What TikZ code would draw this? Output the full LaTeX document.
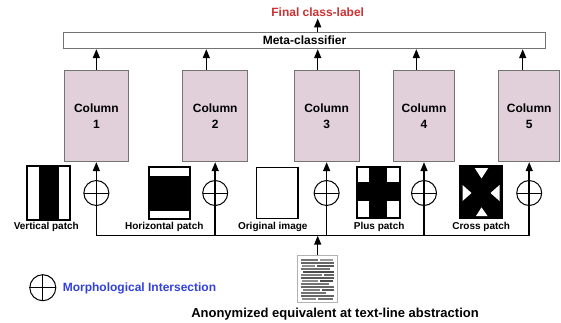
\documentclass[tikz,border=0pt]{standalone}
\usepackage{fontspec}
\setmainfont{Liberation Sans}
\usetikzlibrary{arrows.meta}
\definecolor{colfill}{RGB}{225,208,218}
\definecolor{bordergray}{RGB}{115,115,115}
\definecolor{labelred}{RGB}{205,50,50}
\definecolor{legblue}{RGB}{50,65,220}
\begin{document}
\begin{tikzpicture}[x=1pt,y=-1pt,
  lbl/.style={font=\fontsize{10}{12}\selectfont\bfseries, inner sep=0},
  big/.style={font=\fontsize{12}{16}\selectfont\bfseries, inner sep=0},
  colbox/.style={draw=bordergray, fill=colfill, line width=0.9pt, minimum height=91.7pt, inner sep=0, align=center, font=\fontsize{12}{16}\selectfont\bfseries},
  arr/.style={-{Triangle[length=9pt,width=7pt]}, line width=1.5pt},
  patchbox/.style={draw=black, line width=1.4pt, fill=white, inner sep=0},
  oplus/.style={circle, draw, line width=1pt, minimum size=25pt, inner sep=0,
    path picture={\draw[line width=1pt] (path picture bounding box.west) -- (path picture bounding box.east);}},
]
\useasboundingbox (0,0) rectangle (561,322);

% meta-classifier and final label
\node[draw=bordergray, line width=0.9pt, minimum width=482.4pt, minimum height=16.4pt, inner sep=0, big] (meta) at (304.5,40.5) {Meta-classifier};
\node[big, text=labelred, anchor=base] (final) at (317.7,16.6) {Final class-label};
\draw[arr] (meta.north -| final) -- ([yshift=-1.5pt]final.south);

% columns
\node[colbox, minimum width=64.7pt] (c1) at (96.35,115.85) {Column\\1};
\node[colbox, minimum width=65pt]   (c2) at (215.2,115.85) {Column\\2};
\node[colbox, minimum width=64.7pt] (c3) at (326.65,115.85) {Column\\3};
\node[colbox, minimum width=61.4pt] (c4) at (424,115.85) {Column\\4};
\node[colbox, minimum width=61pt]   (c5) at (529.2,115.85) {Column\\5};

% column to meta arrows
\draw[arr] (c1.north) -- (c1.north |- meta.south);
\draw[arr] ([xshift=-8.9pt]c2.north) -- ([xshift=-8.9pt]c2.north |- meta.south);
\draw[arr] ([xshift=-8.95pt]c3.north) -- ([xshift=-8.95pt]c3.north |- meta.south);
\draw[arr] ([xshift=-7.7pt]c4.north) -- ([xshift=-7.7pt]c4.north |- meta.south);
\draw[arr] ([xshift=-6.5pt]c5.north) -- ([xshift=-6.5pt]c5.north |- meta.south);

% bus
\coordinate (bus) at (96.3,235.7);
\draw[line width=1.5pt] (c1.south |- bus) -- (c5.south |- bus);
\foreach \c in {c1,c2,c3,c4,c5}{
  \draw[arr] (\c.south |- bus) -- (\c.south);
}
\node[oplus] (o1) at (96.35,193) {};
\node[oplus] (o2) at (215.2,193) {};
\node[oplus] (o3) at (326.65,193) {};
\node[oplus] (o4) at (424,193) {};
\node[oplus] (o5) at (529.2,193) {};

% vertical patch
\node[patchbox, minimum width=41.6pt, minimum height=52.6pt] (vp) at (48.5,193) {};
\fill[black] (39,166.7) rectangle (59.3,219.3);
\draw[line width=1.4pt] (vp.south west) rectangle (vp.north east);
\node[lbl, anchor=base] (vpl) at (46.3,229.7) {Vertical patch};

% horizontal patch
\node[patchbox, minimum width=41pt, minimum height=51.7pt] (hp) at (169.5,192.85) {};
\fill[black] (149,175.5) rectangle (190,210.5);
\draw[line width=1.4pt] (hp.south west) rectangle (hp.north east);
\node[lbl, anchor=base] (hpl) at (164.3,229.7) {Horizontal patch};

% original image
\node[patchbox, minimum width=41.7pt, minimum height=51pt] (oi) at (277.15,192.8) {};
\node[lbl, anchor=base] (oil) at (272.8,229.7) {Original image};

% plus patch
\node[patchbox, minimum width=42pt, minimum height=50.4pt] (pp) at (378.3,192.5) {};
\fill[black] (369.3,167.3) rectangle (387.3,217.7);
\fill[black] (357.3,182) rectangle (399.3,201);
\draw[line width=1.4pt] (pp.south west) rectangle (pp.north east);
\node[lbl, anchor=base] (ppl) at (379.2,229.7) {Plus patch};

% cross patch
\node[patchbox, minimum width=42pt, minimum height=52pt, fill=black] (cp) at (481,192) {};
\fill[white] (474.7,168) -- (488.2,168) -- (481.5,178.5) -- cycle;
\fill[white] (476,216) -- (487.5,216) -- (481.5,207.4) -- cycle;
\fill[white] (462.5,185) -- (462.5,201) -- (471.5,193) -- cycle;
\fill[white] (499.5,185) -- (499.5,201) -- (490.5,193) -- cycle;
\draw[line width=1.4pt] (cp.south west) rectangle (cp.north east);
\node[lbl, anchor=base] (cpl) at (481.2,229.7) {Cross patch};

% anonymized document
\node[draw=gray!60, line width=0.6pt, fill=white, minimum width=40pt, minimum height=47.3pt, inner sep=0] (doc) at (317.7,278.65) {};
\foreach \y/\a/\b/\s in {258.5/301/318/55, 258.5/320/333/40,
  261.5/301/334/60, 264.5/302/315/45, 264.5/317/334/65,
  267.5/301/330/55, 270.5/303/334/70, 273.5/301/322/50, 273.5/324/334/60,
  276.5/301/334/65, 279.5/302/318/45, 279.5/320/333/70, 282.5/301/329/55,
  285.5/301/334/60, 288.5/303/320/50, 288.5/322/334/65, 291.5/301/326/55,
  294.5/301/334/60, 297.5/302/316/45, 297.5/318/333/55}{
  \fill[black!\s] (\a,\y) rectangle (\b,\y+2);
}
\draw[arr] (doc.north) -- (doc.north |- bus);
\node[font=\fontsize{13}{15}\selectfont\bfseries, inner sep=0, anchor=base] (anon) at (335,317) {Anonymized equivalent at text-line abstraction};

% legend
\node[circle, draw, line width=1pt, minimum size=26pt, inner sep=0] (leg) at (42.8,287.7) {};
\draw[line width=1pt] (leg.west) -- (leg.east) (leg.north) -- (leg.south);
\node[font=\fontsize{12}{14}\selectfont\bfseries, text=legblue, inner sep=0, anchor=base west] (legt) at (62.6,291.9) {Morphological Intersection};
\end{tikzpicture}
\end{document}
